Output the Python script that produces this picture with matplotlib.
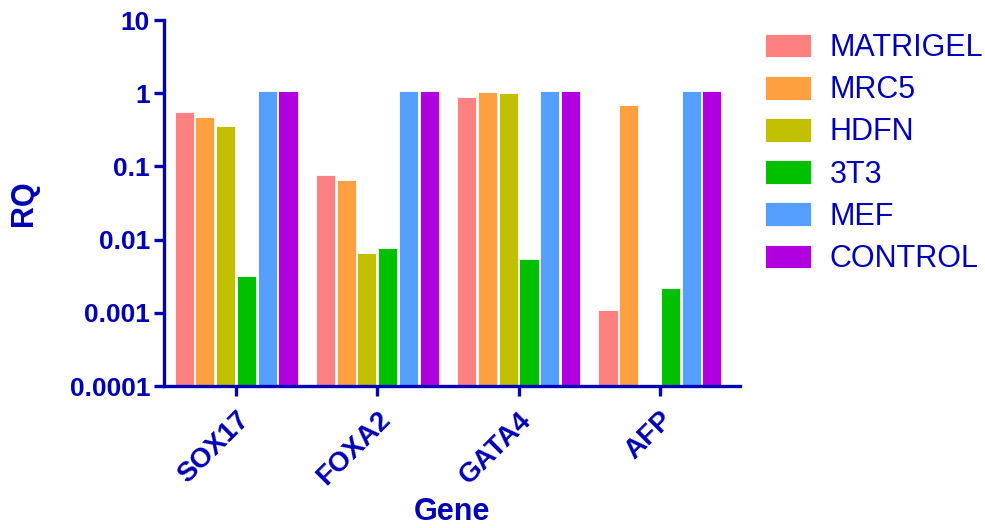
import numpy as np
import matplotlib
matplotlib.use("Agg")
import matplotlib.pyplot as plt

genes = ["SOX17", "FOXA2", "GATA4", "AFP"]
series = ["MATRIGEL", "MRC5", "HDFN", "3T3", "MEF", "CONTROL"]
matrigel = [0.545, 0.076, 0.89, 0.0011]
mrc5 = [0.475, 0.065, 1.03, 0.69]
hdfn = [0.358, 0.0065, 1.02, np.nan]
t3t3 = [0.0032, 0.0076, 0.0054, 0.0022]
mef = [1.07, 1.07, 1.07, 1.07]
control = [1.07, 1.07, 1.07, 1.07]
values = [matrigel, mrc5, hdfn, t3t3, mef, control]
colors = ["#FF8080", "#FFA040", "#C0C000", "#00C000", "#55A0FF", "#B000E0"]

blue = "#0000B8"
plt.rcParams['font.family'] = ['Liberation Sans', 'DejaVu Sans']

fig = plt.figure(figsize=(9.85, 5.28), dpi=100)
ax = fig.add_axes([164/985, 1-386/528, (740-164)/985, (386-20)/528])

x = np.arange(len(genes))
slot = 0.147
width = 0.135
bottom = 1e-4
for i, (name, vals, c) in enumerate(zip(series, values, colors)):
    v = np.array(vals, dtype=float)
    ax.bar(x + (i - 2.5) * slot, v - bottom, width=width, bottom=bottom,
           color=c, edgecolor='white', linewidth=0.6, label=name)

ax.set_yscale('log')
ax.set_ylim(1e-4, 10)
ax.set_xlim(-0.51, 3.567)
ax.set_yticks([1e-4, 1e-3, 1e-2, 1e-1, 1, 10])
ax.set_yticklabels(["0.0001", "0.001", "0.01", "0.1", "1", "10"])
ax.minorticks_off()
ax.set_xticks(x)
ax.set_xticklabels(genes, rotation=45, ha='right', va='top', rotation_mode='anchor')

for s in ['top', 'right']:
    ax.spines[s].set_visible(False)
for s in ['left', 'bottom']:
    ax.spines[s].set_color(blue)
    ax.spines[s].set_linewidth(2.4)
ax.tick_params(axis='both', colors=blue, width=2.4, length=7, direction='out',
               labelsize=19, pad=3)
for lab in ax.get_xticklabels() + ax.get_yticklabels():
    lab.set_fontweight('bold')
    lab.set_color(blue)
ax.tick_params(axis='x', pad=8, labelsize=20)

ax.set_ylabel("RQ", fontsize=22, fontweight='bold', color=blue, labelpad=22)
ax.set_xlabel("Gene", fontsize=22, fontweight='bold', color=blue)
ax.xaxis.set_label_coords(0.5, -0.303)

leg = fig.legend(loc='upper left', bbox_to_anchor=(765/985, 1-33/528), frameon=False,
                 fontsize=22, handlelength=1.5, handleheight=0.82, handletextpad=0.62,
                 labelspacing=0.40, borderaxespad=0, borderpad=0)
for t in leg.get_texts():
    t.set_color(blue)

fig.savefig("out.png", dpi=100)
